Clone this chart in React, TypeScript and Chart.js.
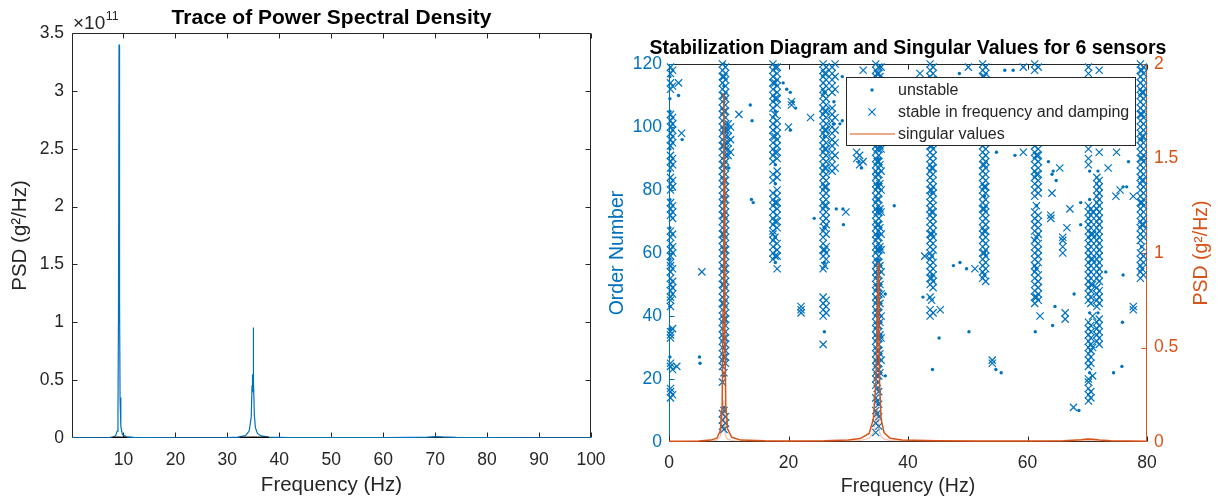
import React, { useEffect, useRef } from "react";
import { Chart, registerables } from "chart.js";

Chart.register(...registerables);

const FONT = '"Liberation Sans", Arial, Helvetica, sans-serif';
const BLUE = "#0072BD";
const ORANGE = "#D95319";
const ORANGE_LIGHT = "rgba(217, 83, 25, 0.35)";
const AXIS = "#262626";

// ---------------- Left: trace of PSD ----------------
const leftTitle = "Trace of Power Spectral Density";
const leftXLabel = "Frequency (Hz)";
const leftYLabel = "PSD (g\u00B2/Hz)";
const leftExponent = "11";
const psdFreq = [
  0.1, 2, 5, 7, 8, 8.5, 8.8, 8.95, 9.05, 9.15, 9.25, 9.35, 9.5, 9.8, 10.5, 12, 15, 20, 25, 30,
  32, 33.5, 34.2, 34.6, 34.75, 34.85, 34.95, 35.0, 35.05, 35.2, 35.4, 35.8, 36.5, 38, 42, 50, 60, 66,
  68.5, 70, 71.5, 74, 80, 90, 100,
];
// values in units of 1e11 g^2/Hz
const psdValue = [
  0.001, 0.001, 0.002, 0.004, 0.008, 0.02, 0.06, 0.21, 1.1, 3.4, 1.2, 0.35, 0.1, 0.03, 0.012, 0.005,
  0.003, 0.002, 0.002, 0.004, 0.008, 0.02, 0.06, 0.18, 0.45, 0.55, 0.4, 0.955, 0.5, 0.2, 0.09, 0.04,
  0.018, 0.008, 0.004, 0.003, 0.003, 0.005, 0.008, 0.013, 0.009, 0.005, 0.003, 0.002, 0.001,
];
// small cross-spectral residue drawn in black near the two main peaks (null = gap)
const psdAuxFreq = [7.7, 9.0, 10.6, 20, 32.5, 35.0, 38.0];
const psdAuxValue: (number | null)[] = [0.004, 0.006, 0.004, null, 0.004, 0.006, 0.004];
const psdXTicks = [10, 20, 30, 40, 50, 60, 70, 80, 90, 100];
const psdYTicks = [0, 0.5, 1, 1.5, 2, 2.5, 3, 3.5];

// ---------------- Right: stabilization diagram ----------------
const rightTitle = "Stabilization Diagram and Singular Values for 6 sensors";
const rightXLabel = "Frequency (Hz)";
const rightYLabel = "Order Number";
const rightY2Label = "PSD (g\u00B2/Hz)";
const labelUnstable = "unstable";
const labelStable = "stable in frequency and damping";
const labelSV = "singular values";
const stabXTicks = [0, 20, 40, 60, 80];
const orderTicks = [0, 20, 40, 60, 80, 100, 120];
const svTicks = [0, 0.5, 1, 1.5, 2];

const svFreq = [
  0, 2, 5, 7, 8, 8.6, 8.9, 9.05, 9.15, 9.2, 9.25, 9.35, 9.5, 9.8, 10.5, 12, 16, 20, 26, 30, 32, 33.5,
  34.2, 34.6, 34.8, 34.9, 35.0, 35.1, 35.25, 35.5, 36, 37, 39, 45, 52, 60, 66, 69, 70, 71, 72, 74, 77, 80,
];
const sv1 = [
  0.004, 0.004, 0.005, 0.01, 0.02, 0.06, 0.2, 0.7, 1.5, 1.845, 1.4, 0.6, 0.2, 0.07, 0.025, 0.01, 0.006,
  0.005, 0.006, 0.01, 0.018, 0.045, 0.12, 0.3, 0.55, 0.75, 0.949, 0.6, 0.3, 0.12, 0.05, 0.02, 0.01,
  0.006, 0.005, 0.005, 0.007, 0.012, 0.016, 0.014, 0.01, 0.007, 0.005, 0.004,
];
const sv2 = [
  0.002, 0.002, 0.003, 0.005, 0.01, 0.03, 0.1, 0.2, 0.22, 0.18, 0.12, 0.06, 0.03, 0.015, 0.008, 0.004,
  0.003, 0.003, 0.003, 0.005, 0.008, 0.02, 0.05, 0.12, 0.18, 0.16, 0.12, 0.08, 0.05, 0.03, 0.015, 0.008,
  0.005, 0.003, 0.003, 0.003, 0.004, 0.006, 0.008, 0.007, 0.005, 0.004, 0.003, 0.002,
];

// [frequency (Hz), model orders]
const stableCols: [number, number[]][] = [
  [0.25, [14, 16, 17, 24, 25, 33, 34, 35, 43, 45, 46, 48, 50, 52, 54, 56, 57, 59, 61, 63, 65, 67, 72, 74, 76, 80, 82, 84, 87, 89, 91, 94, 96, 98, 100, 102, 104, 112, 114, 117, 119]],
  [0.6, [15, 23, 36, 47, 49, 51, 55, 60, 62, 66, 71, 73, 75, 81, 83, 88, 90, 95, 97, 99, 101, 103, 113, 118]],
  [1.3, [24]],
  [1.6, [114]],
  [2.1, [98]],
  [5.5, [54]],
  [8.95, [5, 7, 9, 19, 24, 26, 28, 30, 32, 34, 36, 38, 40, 42, 44, 46, 48, 50, 52, 54, 56, 58, 60, 62, 64, 66, 68, 70, 72, 74, 76, 78, 80, 82, 84, 86, 88, 90, 92, 94, 96, 98, 100, 102, 104, 106, 108, 110, 112, 114, 116, 118, 120]],
  [9.2, [4, 10, 22, 27, 33, 39, 44, 50, 55, 61, 66, 72, 77, 83, 88, 94, 99, 105, 110, 116]],
  [9.45, [6, 8, 25, 27, 29, 31, 33, 35, 37, 39, 41, 43, 45, 47, 49, 51, 53, 55, 57, 59, 61, 63, 65, 67, 69, 71, 73, 75, 77, 79, 81, 83, 85, 87, 89, 91, 93, 95, 97, 99, 101, 103, 105, 107, 109, 111, 113, 115, 117, 119]],
  [9.9, [91, 93, 95, 97, 99, 101]],
  [10.3, [92, 96, 100]],
  [11.7, [104]],
  [17.4, [58, 60, 62, 64, 66, 67, 69, 71, 73, 75, 77, 79, 83, 85, 89, 91, 93, 95, 97, 99, 101, 103, 106, 108, 110, 112, 114, 116, 118, 120]],
  [17.75, [59, 65, 70, 76, 92, 97, 104, 109, 114, 119]],
  [18.1, [55, 59, 61, 63, 68, 70, 72, 74, 76, 78, 80, 84, 86, 90, 92, 94, 96, 98, 100, 102, 107, 109, 111, 113, 115, 117, 119]],
  [20.0, [100]],
  [20.5, [107, 108]],
  [22.1, [41, 42, 43]],
  [23.7, [103]],
  [25.8, [31, 40, 42, 44, 46, 55, 59, 61, 63, 65, 67, 70, 72, 74, 76, 78, 80, 82, 84, 86, 88, 90, 92, 94, 96, 98, 100, 102, 104, 106, 108, 110, 112, 114, 116, 118, 120]],
  [26.05, [56, 61, 68, 75, 81, 87, 93, 99, 105, 111, 117]],
  [26.3, [41, 43, 45, 58, 60, 62, 66, 69, 71, 73, 75, 77, 79, 81, 83, 85, 87, 89, 91, 93, 95, 97, 99, 101, 103, 105, 107, 109, 113, 115, 117, 119]],
  [27.3, [86, 88, 90, 92, 94, 96, 98, 100, 102, 104, 106, 111, 113, 115, 117, 119]],
  [27.8, [87, 91, 95, 99, 103, 112, 116, 120]],
  [29.6, [73]],
  [31.4, [90, 92]],
  [31.9, [88, 91]],
  [32.5, [89, 118]],
  [34.6, [3, 6, 10, 14, 18, 20, 22, 24, 26, 28, 30, 32, 34, 36, 38, 40, 42, 44, 46, 48, 50, 52, 54, 56, 58, 60, 62, 64, 66, 68, 70, 72, 74, 76, 78, 80, 82, 84, 86, 88, 90, 92, 94, 96, 98, 100, 102, 104, 106, 108, 110, 112, 114, 116, 118, 120]],
  [34.85, [9, 13, 17, 21, 25, 29, 33, 37, 41, 45, 49, 53, 57, 61, 65, 69, 73, 77, 81, 85, 89, 93, 97, 101, 105, 109, 113, 117]],
  [35.1, [5, 8, 12, 16, 21, 23, 25, 27, 29, 31, 33, 35, 37, 39, 41, 43, 45, 47, 49, 51, 53, 55, 57, 59, 61, 63, 65, 67, 69, 71, 73, 75, 77, 79, 81, 83, 85, 87, 89, 91, 93, 95, 97, 99, 101, 103, 105, 107, 109, 111, 113, 115, 117, 119]],
  [35.3, [22, 28, 34, 38, 44, 50, 56, 62, 68, 74, 82, 88, 94, 102, 108, 116]],
  [35.5, [26, 33, 40, 47, 54, 61, 66, 73, 80, 86, 93, 100, 107, 114, 119]],
  [42.0, [117]],
  [42.8, [59]],
  [43.7, [40, 42, 46, 50, 52, 54, 56, 58, 60, 62, 64, 66, 68, 70, 72, 74, 76, 78, 80, 82, 84, 86, 88, 90, 92, 94, 96, 98, 100, 102, 104, 106, 108, 110, 112, 114, 116, 118, 120]],
  [43.95, [45, 52, 59, 66, 73, 80, 87, 94, 101, 108, 115]],
  [44.2, [41, 49, 51, 53, 55, 57, 61, 63, 65, 67, 69, 71, 73, 75, 77, 79, 81, 83, 85, 87, 89, 91, 93, 95, 97, 99, 101, 103, 105, 107, 109, 111, 113, 115, 117, 119]],
  [45.4, [42]],
  [50.1, [119]],
  [51.2, [55]],
  [52.5, [52, 54, 56, 58, 60, 62, 64, 66, 68, 70, 72, 74, 76, 78, 80, 82, 84, 86, 88, 90, 92, 94, 96, 98, 100, 102, 104, 106, 108, 110, 112, 114, 116, 118, 120]],
  [52.75, [53, 60, 67, 74, 81, 88, 95, 102, 109, 116]],
  [53.0, [51, 55, 57, 59, 61, 63, 65, 67, 69, 71, 73, 75, 77, 79, 81, 83, 85, 87, 89, 91, 93, 95, 97, 99, 101, 103, 105, 107, 109, 111, 113, 115, 117, 119]],
  [54.1, [25, 26]],
  [59.3, [92, 119]],
  [61.2, [44, 46, 48, 50, 52, 54, 56, 58, 60, 62, 64, 67, 69, 71, 73, 78, 80, 82, 84, 86, 88, 90, 92, 94, 118, 120]],
  [61.5, [46, 55, 65, 75, 85, 91]],
  [61.8, [45, 47, 49, 51, 53, 57, 59, 61, 63, 66, 68, 70, 72, 79, 81, 83, 85, 87, 89, 91, 93, 119]],
  [62.1, [40]],
  [63.9, [71, 72]],
  [64.1, [79]],
  [65.4, [87]],
  [65.9, [60, 62, 64, 65]],
  [66.3, [39, 41]],
  [66.6, [68]],
  [67.1, [74]],
  [67.7, [11]],
  [70.2, [13, 15, 17, 19, 20, 24, 26, 28, 30, 32, 34, 36, 38, 45, 47, 49, 51, 53, 55, 57, 59, 61, 63, 65, 67, 69, 71, 73, 75, 88, 90, 93, 117, 119]],
  [70.6, [14, 16, 25, 27, 29, 31, 33, 35, 37, 44, 46, 48, 50, 52, 54, 56, 58, 60, 62, 64, 66, 68, 70, 72, 74]],
  [70.9, [21, 30, 40, 50, 58, 66, 73]],
  [71.6, [32, 34, 36, 38, 43, 45, 47, 49, 52, 54, 56, 58, 60, 62, 64, 66, 68, 70, 72, 74, 76, 78, 80, 82, 84]],
  [72.0, [31, 33, 35, 37, 39, 44, 46, 48, 51, 53, 55, 57, 59, 61, 63, 65, 67, 69, 71, 73, 75, 77, 79, 81, 83, 92, 118]],
  [73.5, [87]],
  [74.8, [78]],
  [74.9, [92]],
  [75.3, [99, 100, 101, 102, 103]],
  [75.5, [80]],
  [77.7, [42, 43, 78]],
  [78.9, [52, 54, 56, 58, 60, 64, 66, 68, 70, 72, 74, 76, 78, 80, 82, 84, 86, 88, 90, 92, 94, 96, 98, 100, 102, 104, 106, 108, 110, 112, 114, 116, 118, 120]],
  [79.15, [55, 62, 69, 76, 83, 90, 97, 104, 111, 118]],
  [79.4, [53, 57, 59, 65, 67, 69, 71, 73, 75, 77, 79, 81, 83, 85, 87, 89, 91, 93, 95, 97, 99, 101, 103, 105, 107, 109, 111, 113, 115, 117, 119]],
];

const unstableCols: [number, number[]][] = [
  [0.15, [27, 36, 43, 58, 68, 77, 86, 93, 105, 109, 116]],
  [1.6, [110]],
  [2.2, [96]],
  [5.1, [27]],
  [5.2, [25]],
  [9.2, [11, 21, 30, 38, 50, 65, 78, 86, 99, 108, 113, 120]],
  [10.0, [87]],
  [13.6, [107]],
  [13.9, [102]],
  [13.8, [77]],
  [14.1, [76]],
  [17.8, [57, 65, 82, 88, 105]],
  [19.1, [114]],
  [19.7, [112]],
  [20.3, [111, 99]],
  [20.7, [108]],
  [21.2, [106]],
  [24.3, [71]],
  [26.0, [35, 57, 68, 97, 111]],
  [27.5, [101]],
  [27.6, [108]],
  [28.0, [74]],
  [28.6, [101]],
  [29.0, [116, 102]],
  [29.1, [74]],
  [29.2, [69]],
  [31.8, [89]],
  [32.2, [87]],
  [35.0, [12, 19, 26, 34, 42, 50, 58, 66, 74, 82, 90, 98, 106, 114]],
  [36.2, [21, 47]],
  [37.7, [75]],
  [42.5, [46]],
  [44.0, [53, 66, 79, 95, 108]],
  [44.1, [23]],
  [45.2, [33]],
  [47.6, [56]],
  [48.6, [117]],
  [48.7, [57]],
  [49.8, [55]],
  [50.2, [35]],
  [52.8, [60, 78, 97, 112]],
  [54.7, [23]],
  [54.8, [92]],
  [55.6, [22]],
  [56.2, [118]],
  [57.6, [118]],
  [57.9, [91]],
  [61.3, [35]],
  [61.5, [55, 75, 97]],
  [63.5, [89]],
  [64.1, [85]],
  [64.2, [37]],
  [64.3, [86]],
  [64.6, [43]],
  [64.8, [83]],
  [67.8, [47]],
  [68.6, [10]],
  [68.9, [69, 76]],
  [70.4, [22, 41, 77, 86]],
  [71.8, [41, 86]],
  [73.1, [54]],
  [74.4, [22]],
  [75.8, [24]],
  [75.9, [38]],
  [76.0, [53, 81]],
  [76.6, [81]],
  [76.9, [89]],
  [79.1, [62, 96]],
];

// ---------------- helpers ----------------
const toPoints = (xs: number[], ys: (number | null)[]) => xs.map((x, i) => ({ x, y: ys[i] }));
const colPoints = (cols: [number, number[]][]) =>
  cols.flatMap(([f, orders]) => orders.map((o) => ({ x: f, y: o })));
const hp = (v: number) => Math.round(v) + 0.5;

function seg(ctx: CanvasRenderingContext2D, x1: number, y1: number, x2: number, y2: number, color: string) {
  ctx.strokeStyle = color;
  ctx.beginPath();
  ctx.moveTo(x1, y1);
  ctx.lineTo(x2, y2);
  ctx.stroke();
}

const fixedTicks = (vals: number[]) => (axis: any) => {
  axis.ticks = vals.map((v) => ({ value: v }));
};

const TICK_LEN = 5;
const noGrid = { display: false, drawTicks: false };

const leftPlugin = {
  id: "leftFrame",
  beforeDatasetsDraw(chart: any) {
    const { ctx, chartArea: a, scales } = chart;
    const L = hp(a.left), R = hp(a.right) - 1, T = hp(a.top), B = hp(a.bottom) - 1;
    ctx.save();
    ctx.lineWidth = 1;
    seg(ctx, L, T, R, T, AXIS);
    seg(ctx, L, B, R, B, AXIS);
    seg(ctx, L, T, L, B, AXIS);
    seg(ctx, R, T, R, B, AXIS);
    for (const t of scales.x.ticks) {
      const x = hp(scales.x.getPixelForValue(t.value));
      seg(ctx, x, B, x, B - TICK_LEN, AXIS);
      seg(ctx, x, T, x, T + TICK_LEN, AXIS);
    }
    for (const t of scales.y.ticks) {
      const y = hp(scales.y.getPixelForValue(t.value)) - (t.value === 0 ? 1 : 0);
      seg(ctx, L, y, L + TICK_LEN, y, AXIS);
      seg(ctx, R, y, R - TICK_LEN, y, AXIS);
    }
    ctx.restore();
  },
  afterDraw(chart: any) {
    const { ctx, chartArea: a } = chart;
    ctx.save();
    ctx.fillStyle = "#000";
    ctx.font = `bold 21px ${FONT}`;
    ctx.textAlign = "center";
    ctx.textBaseline = "middle";
    ctx.fillText(leftTitle, (a.left + a.right) / 2, a.top - 15);
    ctx.fillStyle = AXIS;
    ctx.textAlign = "left";
    ctx.textBaseline = "alphabetic";
    ctx.font = `19px ${FONT}`;
    const base = "\u00D710";
    ctx.fillText(base, a.left + 1, a.top - 4);
    const w = ctx.measureText(base).width;
    ctx.font = `12.5px ${FONT}`;
    ctx.fillText(leftExponent, a.left + 1 + w + 0.5, a.top - 13);
    ctx.restore();
  },
};

const rightPlugin = {
  id: "rightFrame",
  beforeDatasetsDraw(chart: any) {
    const { ctx, chartArea: a, scales } = chart;
    const L = hp(a.left), R = hp(a.right) - 1, T = hp(a.top), B = hp(a.bottom) - 1;
    ctx.save();
    ctx.lineWidth = 1;
    seg(ctx, L, T, R, T, AXIS);
    seg(ctx, L, B, R, B, AXIS);
    seg(ctx, L, T, L, B, BLUE);
    seg(ctx, R, T, R, B, ORANGE);
    for (const t of scales.x.ticks) {
      const x = hp(scales.x.getPixelForValue(t.value));
      seg(ctx, x, B, x, B - TICK_LEN, AXIS);
      seg(ctx, x, T, x, T + TICK_LEN, AXIS);
    }
    for (const t of scales.y.ticks) {
      const y = hp(scales.y.getPixelForValue(t.value)) - (t.value === 0 ? 1 : 0);
      seg(ctx, L, y, L + TICK_LEN, y, BLUE);
    }
    for (const t of scales.y1.ticks) {
      const y = hp(scales.y1.getPixelForValue(t.value)) - (t.value === 0 ? 1 : 0);
      seg(ctx, R, y, R - TICK_LEN, y, ORANGE);
    }
    ctx.restore();
  },
  afterDraw(chart: any) {
    const { ctx, chartArea: a, width } = chart;
    ctx.save();
    ctx.fillStyle = "#000";
    ctx.font = `bold 19.5px ${FONT}`;
    ctx.textAlign = "center";
    ctx.textBaseline = "middle";
    ctx.fillText(rightTitle, (a.left + a.right) / 2, a.top - 15);
    ctx.save();
    ctx.translate(width - 16.5, (a.top + a.bottom) / 2);
    ctx.rotate(-Math.PI / 2);
    ctx.fillStyle = ORANGE;
    ctx.font = `19.5px ${FONT}`;
    ctx.fillText(rightY2Label, 0, 0);
    ctx.restore();
    // legend
    const bx = a.left + 177, by = a.top + 13, bw = 289, bh = 68;
    ctx.fillStyle = "#fff";
    ctx.fillRect(bx, by, bw, bh);
    ctx.lineWidth = 1;
    ctx.strokeStyle = AXIS;
    ctx.strokeRect(bx + 0.5, by + 0.5, bw, bh);
    const rows = [by + 13, by + 35, by + 57];
    const mx = bx + 26;
    ctx.fillStyle = BLUE;
    ctx.beginPath();
    ctx.arc(mx, rows[0], 1.7, 0, Math.PI * 2);
    ctx.fill();
    ctx.strokeStyle = BLUE;
    ctx.lineWidth = 1.2;
    ctx.beginPath();
    ctx.moveTo(mx - 3.6, rows[1] - 3.6);
    ctx.lineTo(mx + 3.6, rows[1] + 3.6);
    ctx.moveTo(mx + 3.6, rows[1] - 3.6);
    ctx.lineTo(mx - 3.6, rows[1] + 3.6);
    ctx.stroke();
    ctx.strokeStyle = ORANGE;
    ctx.lineWidth = 1.2;
    ctx.beginPath();
    ctx.moveTo(bx + 4, rows[2]);
    ctx.lineTo(bx + 49, rows[2]);
    ctx.stroke();
    ctx.fillStyle = AXIS;
    ctx.font = `16px ${FONT}`;
    ctx.textAlign = "left";
    ctx.textBaseline = "middle";
    const labels = [labelUnstable, labelStable, labelSV];
    labels.forEach((t, i) => ctx.fillText(t, bx + 52, rows[i] + 0.5));
    ctx.restore();
  },
};

function leftConfig(): any {
  return {
    type: "line",
    data: {
      datasets: [
        {
          label: "PSD trace",
          data: toPoints(psdFreq, psdValue),
          borderColor: BLUE,
          borderWidth: 1.2,
          pointRadius: 0,
          tension: 0,
          fill: false,
          order: 1,
        },
        {
          label: "residue",
          data: toPoints(psdAuxFreq, psdAuxValue),
          borderColor: "#000",
          borderWidth: 1.4,
          pointRadius: 0,
          tension: 0,
          fill: false,
          spanGaps: false,
          order: 0,
        },
      ],
    },
    options: {
      responsive: false,
      animation: false,
      events: [],
      layout: { padding: { top: 33, right: 34, bottom: 0, left: 0 } },
      plugins: { legend: { display: false }, tooltip: { enabled: false }, title: { display: false } },
      scales: {
        x: {
          type: "linear",
          min: 0.1,
          max: 100,
          grid: noGrid,
          border: { display: false },
          afterBuildTicks: fixedTicks(psdXTicks),
          afterFit: (s: any) => { s.height = 66; },
          ticks: {
            autoSkip: false,
            maxRotation: 0,
            color: AXIS,
            padding: 12,
            font: { family: FONT, size: 17.5 },
            callback: (v: any) => String(v),
          },
          title: {
            display: true,
            text: leftXLabel,
            color: AXIS,
            font: { family: FONT, size: 20.5 },
            padding: { top: 0, bottom: 6 },
          },
        },
        y: {
          type: "linear",
          min: 0,
          max: 3.5,
          grid: noGrid,
          border: { display: false },
          afterBuildTicks: fixedTicks(psdYTicks),
          afterFit: (s: any) => { s.width = 72; },
          ticks: {
            autoSkip: false,
            color: AXIS,
            padding: 8,
            font: { family: FONT, size: 17.5 },
            callback: (v: any) => String(v),
          },
          title: {
            display: true,
            text: leftYLabel,
            color: AXIS,
            font: { family: FONT, size: 20.5 },
            padding: { top: 8, bottom: 0 },
          },
        },
      },
    },
    plugins: [leftPlugin],
  };
}

function rightConfig(): any {
  return {
    type: "scatter",
    data: {
      datasets: [
        {
          type: "line",
          label: labelSV,
          data: toPoints(svFreq, sv1),
          yAxisID: "y1",
          borderColor: ORANGE,
          borderWidth: 1.5,
          pointRadius: 0,
          tension: 0,
          fill: false,
          order: 0,
        },
        {
          type: "line",
          label: "singular value 2",
          data: toPoints(svFreq, sv2),
          yAxisID: "y1",
          borderColor: ORANGE_LIGHT,
          borderWidth: 1.2,
          pointRadius: 0,
          tension: 0,
          fill: false,
          order: 1,
        },
        {
          label: labelStable,
          data: colPoints(stableCols),
          yAxisID: "y",
          pointStyle: "crossRot",
          pointRadius: 5.1,
          pointBorderWidth: 1.2,
          pointBorderColor: BLUE,
          pointBackgroundColor: BLUE,
          clip: 5,
          order: 2,
        },
        {
          label: labelUnstable,
          data: colPoints(unstableCols),
          yAxisID: "y",
          pointStyle: "circle",
          pointRadius: 1.7,
          pointBorderWidth: 0,
          pointBackgroundColor: BLUE,
          clip: 5,
          order: 3,
        },
      ],
    },
    options: {
      responsive: false,
      animation: false,
      events: [],
      layout: { padding: { top: 64, right: 0, bottom: 0, left: 0 } },
      plugins: { legend: { display: false }, tooltip: { enabled: false }, title: { display: false } },
      scales: {
        x: {
          type: "linear",
          min: 0,
          max: 80,
          grid: noGrid,
          border: { display: false },
          afterBuildTicks: fixedTicks(stabXTicks),
          afterFit: (s: any) => { s.height = 62; },
          ticks: {
            autoSkip: false,
            maxRotation: 0,
            color: AXIS,
            padding: 10.5,
            font: { family: FONT, size: 17.5 },
            callback: (v: any) => String(v),
          },
          title: {
            display: true,
            text: rightXLabel,
            color: AXIS,
            font: { family: FONT, size: 19.5 },
            padding: { top: 0, bottom: 5.6 },
          },
        },
        y: {
          type: "linear",
          position: "left",
          min: 0,
          max: 120,
          grid: noGrid,
          border: { display: false },
          afterBuildTicks: fixedTicks(orderTicks),
          afterFit: (s: any) => { s.width = 69; },
          ticks: {
            autoSkip: false,
            color: BLUE,
            padding: 7,
            font: { family: FONT, size: 17.5 },
            callback: (v: any) => String(v),
          },
          title: {
            display: true,
            text: rightYLabel,
            color: BLUE,
            font: { family: FONT, size: 19.5 },
            padding: { top: 6.3, bottom: 0 },
          },
        },
        y1: {
          type: "linear",
          position: "right",
          min: 0,
          max: 2,
          grid: noGrid,
          border: { display: false },
          afterBuildTicks: fixedTicks(svTicks),
          afterFit: (s: any) => { s.width = 71; },
          ticks: {
            autoSkip: false,
            color: ORANGE,
            padding: 7,
            font: { family: FONT, size: 17.5 },
            callback: (v: any) => String(v),
          },
          title: { display: false },
        },
      },
    },
    plugins: [rightPlugin],
  };
}

export default function App() {
  const leftRef = useRef<HTMLCanvasElement>(null);
  const rightRef = useRef<HTMLCanvasElement>(null);

  useEffect(() => {
    const c1 = new Chart(leftRef.current as HTMLCanvasElement, leftConfig());
    const c2 = new Chart(rightRef.current as HTMLCanvasElement, rightConfig());
    return () => {
      c1.destroy();
      c2.destroy();
    };
  }, []);

  return (
    <div
      style={{
        position: "absolute",
        left: 0,
        top: 0,
        width: 1218,
        height: 504,
        background: "#fff",
        overflow: "hidden",
      }}
    >
      <canvas
        ref={leftRef}
        width={625}
        height={504}
        style={{ position: "absolute", left: 0, top: 0, width: 625, height: 504 }}
      />
      <canvas
        ref={rightRef}
        width={618}
        height={504}
        style={{ position: "absolute", left: 600, top: 0, width: 618, height: 504 }}
      />
    </div>
  );
}
